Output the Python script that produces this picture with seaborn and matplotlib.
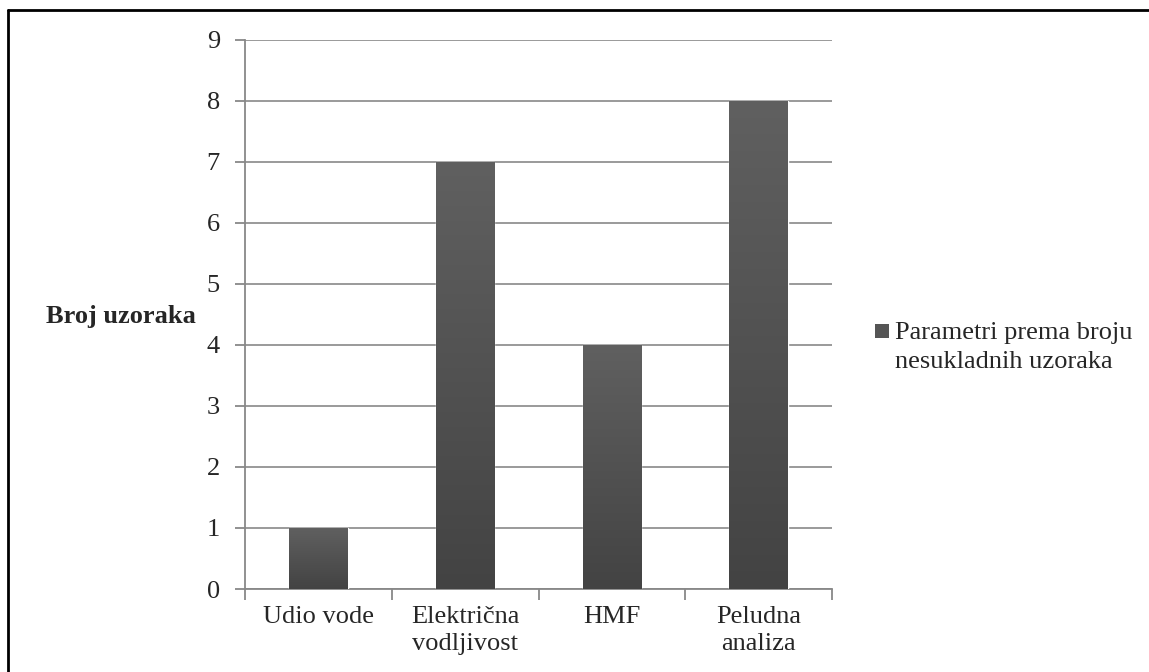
import numpy as np
import matplotlib
matplotlib.use("Agg")
import matplotlib.pyplot as plt
import seaborn as sns
from matplotlib.lines import Line2D
from matplotlib.patches import Rectangle

# podaci
kategorije = ["Udio vode", "Električna\nvodljivost", "HMF", "Peludna\nanaliza"]
broj_uzoraka = [1, 7, 4, 8]
serija = "Parametri prema broju\nnesukladnih uzoraka"
y_tickovi = list(range(0, 10))

sns.set_style("white")
plt.rcParams["font.family"] = ["Liberation Serif", "DejaVu Serif"]

W, H = 1149, 672
fig = plt.figure(figsize=(W / 100, H / 100), dpi=100)
ax = fig.add_axes([245 / W, 1 - 589 / H, (832 - 245) / W, (589 - 39.5) / H])

sns.barplot(x=kategorije, y=broj_uzoraka, color="#505050", width=0.4,
            saturation=1, ax=ax, zorder=3)

# gradijent na stupcima (svjetliji gore, tamniji dolje)
grad = np.linspace(0, 1, 256).reshape(-1, 1)
cmap = matplotlib.colors.LinearSegmentedColormap.from_list("g", ["#434343", "#606060"])
for bar in ax.patches:
    x0, y0 = bar.get_x(), bar.get_y()
    w, h = bar.get_width(), bar.get_height()
    im = ax.imshow(grad, cmap=cmap, aspect="auto", origin="lower",
                   extent=[x0, x0 + w, y0, y0 + h], zorder=4)
    im.set_clip_path(bar)

ax.set_xlim(-0.5, 3.5)
ax.set_ylim(0, 9)
ax.set_yticks(y_tickovi)
ax.tick_params(axis="y", labelsize=19, length=7, width=1.3, color="#888888",
               direction="out", pad=11, left=True)
ax.tick_params(axis="x", which="major", labelsize=19, length=0, pad=12)
ax.set_xticks([-0.5, 0.5, 1.5, 2.5, 3.5], minor=True)
ax.tick_params(axis="x", which="minor", length=8, width=1.3, color="#888888",
               direction="out", bottom=True)
for lbl in ax.get_xticklabels():
    lbl.set_linespacing(1.3)

ax.grid(axis="y", color="#929292", linewidth=1.3, zorder=0)
ax.set_axisbelow(True)
for s in ["top", "right"]:
    ax.spines[s].set_visible(False)
for s in ["left", "bottom"]:
    ax.spines[s].set_color("#888888")
    ax.spines[s].set_linewidth(1.3)

ax.set_xlabel("")
ax.set_ylabel("Broj uzoraka", fontsize=19, fontweight="bold", rotation=0,
              va="center", ha="center")
ax.yaxis.set_label_coords((121 - 245) / (832 - 245), (589 - 316) / (589 - 39.5))

# legenda (oznaka poravnata s prvim redom teksta)
fig.add_artist(Rectangle((875 / W, 1 - 338 / H), 14 / W, 14 / H,
                         facecolor="#555555", edgecolor="none",
                         transform=fig.transFigure))
fig.text(895 / W, 1 - 322 / H, serija, fontsize=19, va="top", ha="left",
         linespacing=1.4)

# okvir oko slike (desno i dolje odrezan)
fig.add_artist(Line2D([8 / W, 8 / W], [1 - 10 / H, 0], color="black",
                      linewidth=2, transform=fig.transFigure))
fig.add_artist(Line2D([8 / W, 1], [1 - 10 / H, 1 - 10 / H], color="black",
                      linewidth=2, transform=fig.transFigure))

fig.savefig("out.png", dpi=100)
